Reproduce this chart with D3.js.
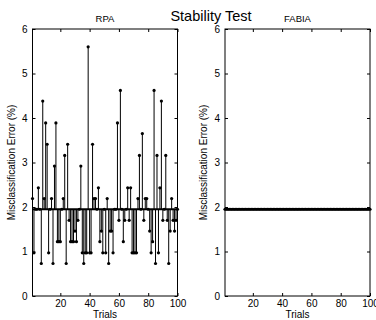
<!DOCTYPE html>
<html>
<head>
<meta charset="utf-8">
<script src="https://cdn.jsdelivr.net/npm/d3@7"></script>
<style>
  body { margin: 0; background: #fff; }
  svg { display: block; font-family: 'Liberation Sans', Arial, sans-serif; }
</style>
</head>
<body>
<div id="chart"></div>
<script>
// misclassification error (%) per trial
const rpaError = [
  2.19, 0.97, 1.95, 1.95, 2.43, 1.95, 0.73, 4.38, 2.19, 3.89,
  3.41, 0.97, 1.95, 2.19, 0.73, 2.92, 3.89, 1.22, 1.22, 1.22,
  1.95, 2.19, 3.16, 0.73, 3.41, 1.70, 1.22, 1.22, 1.22, 1.46,
  1.22, 1.70, 1.95, 2.92, 0.97, 0.73, 0.97, 0.97, 5.60, 0.97,
  0.97, 3.41, 2.19, 2.19, 1.95, 2.43, 1.22, 1.46, 0.97, 1.95,
  0.97, 2.19, 0.73, 1.46, 1.46, 0.97, 1.95, 1.95, 3.89, 1.70,
  4.62, 1.95, 1.22, 1.70, 1.95, 2.43, 1.70, 2.43, 0.97, 0.97,
  0.97, 0.97, 2.19, 3.16, 1.95, 3.65, 1.70, 2.19, 2.19, 1.95,
  1.46, 0.97, 1.22, 4.62, 0.73, 3.16, 0.97, 2.43, 4.38, 1.70,
  1.95, 3.16, 1.70, 0.73, 1.46, 2.19, 1.70, 1.46, 1.70, 1.95
];

const fabiaError = [
  1.95, 1.95, 1.95, 1.95, 1.95, 1.95, 1.95, 1.95, 1.95, 1.95,
  1.95, 1.95, 1.95, 1.95, 1.95, 1.95, 1.95, 1.95, 1.95, 1.95,
  1.95, 1.95, 1.95, 1.95, 1.95, 1.95, 1.95, 1.95, 1.95, 1.95,
  1.95, 1.95, 1.95, 1.95, 1.95, 1.95, 1.95, 1.95, 1.95, 1.95,
  1.95, 1.95, 1.95, 1.95, 1.95, 1.95, 1.95, 1.95, 1.95, 1.95,
  1.95, 1.95, 1.95, 1.95, 1.95, 1.95, 1.95, 1.95, 1.95, 1.95,
  1.95, 1.95, 1.95, 1.95, 1.95, 1.95, 1.95, 1.95, 1.95, 1.95,
  1.95, 1.95, 1.95, 1.95, 1.95, 1.95, 1.95, 1.95, 1.95, 1.95,
  1.95, 1.95, 1.95, 1.95, 1.95, 1.95, 1.95, 1.95, 1.95, 1.95,
  1.95, 1.95, 1.95, 1.95, 1.95, 1.95, 1.95, 1.95, 1.95, 1.95
];

const panelTitles = ['RPA', 'FABIA'];
const baseValue = 1.95; // stem baseline
const xDomain = [1, 100];
const yDomain = [0, 6];
const xTicks = [20, 40, 60, 80, 100];
const yTicks = [0, 1, 2, 3, 4, 5, 6];

const width = 376;
const height = 320;

const svg = d3.select('#chart').append('svg').attr('width', width).attr('height', height);

// overall title
svg
  .append('text')
  .attr('x', 211)
  .attr('y', 20.5)
  .attr('text-anchor', 'middle')
  .style('font-size', '14.5px')
  .text('Stability Test');

function drawPanel(left, right, title, values) {
  const top = 29;
  const bottom = 296;

  const x = d3.scaleLinear().domain(xDomain).range([left, right]);
  const y = d3.scaleLinear().domain(yDomain).range([bottom, top]);

  const g = svg.append('g');

  // stems
  g.selectAll('line.stem')
    .data(values)
    .enter()
    .append('line')
    .attr('class', 'stem')
    .attr('x1', (d, i) => x(i + 1))
    .attr('x2', (d, i) => x(i + 1))
    .attr('y1', y(baseValue))
    .attr('y2', d => y(d))
    .style('stroke', '#000')
    .style('stroke-width', 1);

  // baseline across the axes
  g.append('line')
    .attr('x1', left)
    .attr('x2', right)
    .attr('y1', y(baseValue))
    .attr('y2', y(baseValue))
    .style('stroke', '#000')
    .style('stroke-width', 2);

  // filled markers
  g.selectAll('circle')
    .data(values)
    .enter()
    .append('circle')
    .attr('cx', (d, i) => x(i + 1))
    .attr('cy', d => y(d))
    .attr('r', 1.6)
    .style('fill', '#000');

  // axes, ticks pointing inward (matlab style box)
  const fmt = d3.format('d');
  const axB = g.append('g').attr('transform', `translate(0,${bottom})`)
    .call(d3.axisBottom(x).tickValues(xTicks).tickFormat(fmt).tickSizeInner(-3).tickSizeOuter(0).tickPadding(4));
  const axT = g.append('g').attr('transform', `translate(0,${top})`)
    .call(d3.axisTop(x).tickValues(xTicks).tickFormat('').tickSizeInner(-3).tickSizeOuter(0));
  const axL = g.append('g').attr('transform', `translate(${left},0)`)
    .call(d3.axisLeft(y).tickValues(yTicks).tickFormat(fmt).tickSizeInner(-3).tickSizeOuter(0).tickPadding(5));
  const axR = g.append('g').attr('transform', `translate(${right},0)`)
    .call(d3.axisRight(y).tickValues(yTicks).tickFormat('').tickSizeInner(-3).tickSizeOuter(0));

  [axB, axT, axL, axR].forEach(a => {
    a.select('.domain').remove();
    a.selectAll('text').style('font-size', '10px').style('font-family', "'Liberation Sans', Arial, sans-serif").attr('fill', '#000');
    a.selectAll('line').attr('stroke', '#000');
  });

  // frame
  g.append('rect')
    .attr('x', left)
    .attr('y', top)
    .attr('width', right - left)
    .attr('height', bottom - top)
    .style('fill', 'none')
    .style('stroke', '#000')
    .style('stroke-width', 1);

  // panel title
  g.append('text')
    .attr('x', (left + right) / 2)
    .attr('y', 22)
    .attr('text-anchor', 'middle')
    .style('font-size', '9.5px')
    .text(title);

  // x label
  g.append('text')
    .attr('x', (left + right) / 2)
    .attr('y', 318)
    .attr('text-anchor', 'middle')
    .style('font-size', '10px')
    .text('Trials');

  // y label
  g.append('text')
    .attr('transform', `translate(${left - 18},${(top + bottom) / 2}) rotate(-90)`)
    .attr('text-anchor', 'middle')
    .style('font-size', '10px')
    .text('Misclassification Error (%)');
}

drawPanel(32.5, 177.5, panelTitles[0], rpaError);
drawPanel(225, 370, panelTitles[1], fabiaError);
</script>
</body>
</html>
